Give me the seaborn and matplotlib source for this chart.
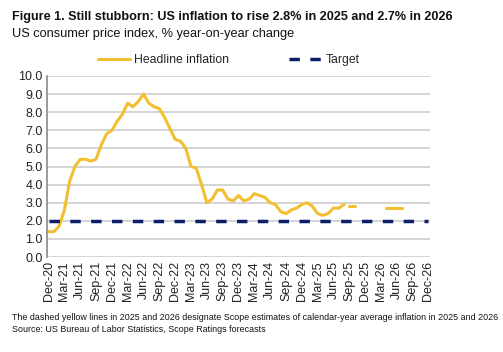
import numpy as np
import pandas as pd
import seaborn as sns
from matplotlib import pyplot as plt

# monthly US CPI, % y/y, Dec-20 .. Aug-25
months = pd.date_range('2020-12-01', '2026-12-01', freq='MS')
headline = [1.4, 1.4, 1.7, 2.6, 4.2, 5.0, 5.4, 5.4, 5.3, 5.4, 6.2, 6.8,
            7.0, 7.5, 7.9, 8.5, 8.3, 8.6, 9.0, 8.5, 8.3, 8.2, 7.7, 7.1,
            6.5, 6.4, 6.0, 5.0, 4.9, 4.0, 3.0, 3.2, 3.7, 3.7, 3.2, 3.1,
            3.4, 3.1, 3.2, 3.5, 3.4, 3.3, 3.0, 2.9, 2.5, 2.4, 2.6, 2.7,
            2.9, 3.0, 2.8, 2.4, 2.3, 2.4, 2.7, 2.7, 2.9]
forecast_2025 = 2.8
forecast_2026 = 2.7
fc25_months = ['2025-09-01', '2025-10-01']
fc26_months = ['2026-04-01', '2026-05-01', '2026-06-01', '2026-07-01']
target = 2.0

tick_labels = [d.strftime('%b-%y') for d in months[::3]]

idx = np.arange(len(months))
df = pd.DataFrame({'date': months, 'i': idx})
df['headline'] = pd.Series(headline + [np.nan] * (len(months) - len(headline)))
df['fc25'] = np.where(df['date'].isin(pd.to_datetime(fc25_months)), forecast_2025, np.nan)
df['fc26'] = np.where(df['date'].isin(pd.to_datetime(fc26_months)), forecast_2026, np.nan)
df['target'] = target

sns.set_style('white')
plt.rcParams['font.family'] = ['Liberation Sans', 'DejaVu Sans']

yellow = '#F2BF30'
navy = '#0C1F66'

fig = plt.figure(figsize=(5.03, 3.52), dpi=100)
ax = fig.add_axes([47 / 503, 1 - 257 / 352, 383 / 503, 181 / 352])

for v in np.arange(0, 11, 1.0):
    ax.axhline(v, color='#c9c9c9', lw=1.1, zorder=0)

sns.lineplot(data=df, x='i', y='headline', color=yellow, lw=2.2, ax=ax, label='Headline inflation')
sns.lineplot(data=df, x='i', y='target', color=navy, lw=2.5, ax=ax, label='Target',
             dashes=False)
ax.lines[-1].set_dashes([3.0, 3.0])
sns.lineplot(data=df, x='i', y='fc25', color=yellow, lw=2.2, ax=ax, legend=False)
sns.lineplot(data=df, x='i', y='fc26', color=yellow, lw=2.2, ax=ax, legend=False)

ax.set_xlim(-0.3, len(months) - 1 + 0.3)
ax.set_ylim(0, 10)
ax.set_yticks(np.arange(0, 11, 1.0))
ax.set_yticklabels([f'{v:.1f}' for v in np.arange(0, 11, 1.0)], fontsize=9, color='#222222')
ax.set_xticks(idx[::3])
ax.set_xticklabels(tick_labels, rotation=90, fontsize=9, color='#222222')
ax.tick_params(axis='both', length=0, pad=3)
ax.set_xlabel('')
ax.set_ylabel('')
for s in ['top', 'right', 'bottom']:
    ax.spines[s].set_visible(False)
ax.spines['left'].set_color('#8a8a8a')
ax.spines['left'].set_linewidth(1.2)

ax.legend(loc='lower center', bbox_to_anchor=(0.475, 1.02), ncol=2, frameon=False,
          fontsize=8.8, columnspacing=4.9, handlelength=2.6, handletextpad=0.35,
          borderaxespad=0.1)

fig.text(12 / 503, 1 - 17 / 352, 'Figure 1. Still stubborn: US inflation to rise 2.8% in 2025 and 2.7% in 2026',
         fontsize=9.1, fontweight='bold', va='center', color='#111111')
fig.text(12 / 503, 1 - 34 / 352, 'US consumer price index, % year-on-year change',
         fontsize=9.2, va='center', color='#111111')
fig.text(12 / 503, 1 - 318 / 352,
         'The dashed yellow lines in 2025 and 2026 designate Scope estimates of calendar-year average inflation in 2025 and 2026',
         fontsize=6.42, va='center', color='#111111')
fig.text(12 / 503, 1 - 330 / 352, 'Source: US Bureau of Labor Statistics, Scope Ratings forecasts',
         fontsize=6.42, va='center', color='#111111')

fig.savefig('out.png', dpi=100)
